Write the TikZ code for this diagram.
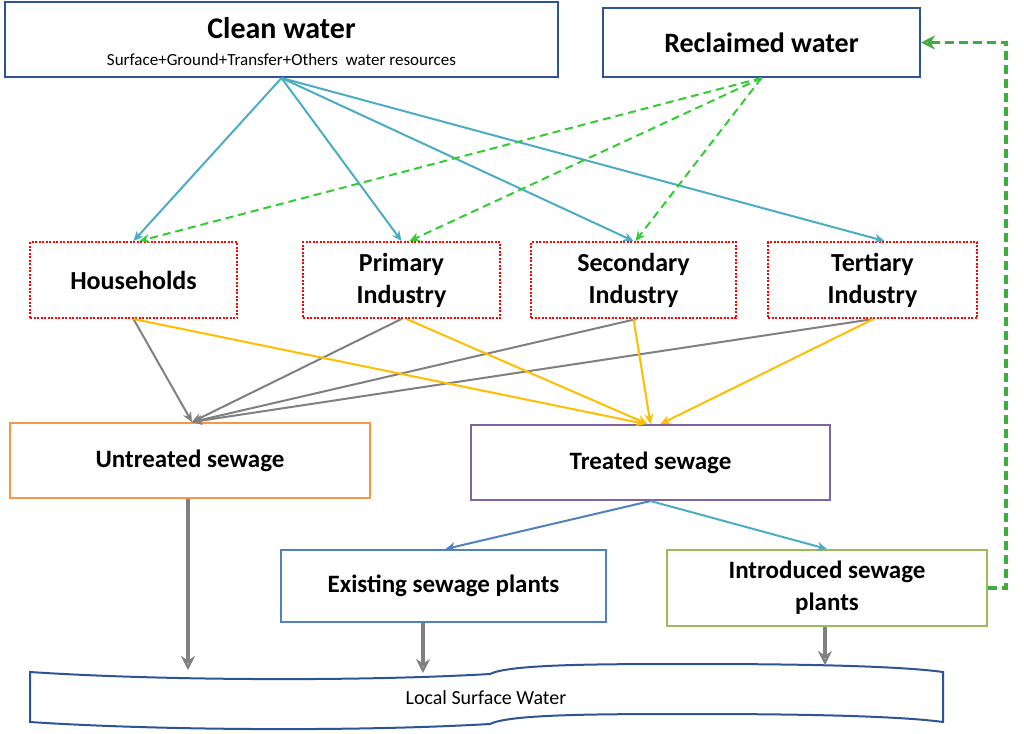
\documentclass[tikz,border=0pt]{standalone}
\usepackage{fontspec}
\setmainfont{Carlito}
\usetikzlibrary{arrows.meta,calc}
\definecolor{cblue}{RGB}{75,172,198}
\definecolor{dblue}{RGB}{47,84,150}
\definecolor{cgreen}{RGB}{50,205,50}
\definecolor{cgray}{RGB}{128,128,128}
\definecolor{cyel}{RGB}{255,190,0}
\definecolor{corange}{RGB}{247,150,70}
\definecolor{cpurple}{RGB}{128,100,162}
\definecolor{cbl2}{RGB}{79,129,189}
\definecolor{cgr2}{RGB}{155,187,89}
\begin{document}
\begin{tikzpicture}[x=1pt,y=-1pt,
 box/.style={draw,line width=2pt,fill=white,align=center,inner sep=0pt},
 sect/.style={draw=red,line width=2pt,dash pattern=on 2pt off 1.5pt,align=center,inner sep=0pt,minimum height=76pt,font=\fontsize{26}{32}\selectfont\bfseries},
 bl/.style={draw=cblue,line width=2pt,-{Stealth[length=10pt,width=9pt,open]}},
 gd/.style={draw=cgreen,line width=2pt,dash pattern=on 8pt off 5pt,-{Stealth[length=10pt,width=9pt,open]}},
 gr/.style={draw=cgray,line width=2pt,-{Stealth[length=10pt,width=9pt,open]}},
 ye/.style={draw=cyel,line width=2pt,-{Stealth[length=10pt,width=9pt,open]}},
 big/.style={draw=cgray,line width=4pt,-{Stealth[length=14pt,width=14pt,open]}}]
\useasboundingbox (0,0) rectangle (1024,733);
\node[box,draw=dblue,minimum width=553pt,minimum height=75pt] (cw) at (281.5,39.5) {};
\node at (281.5,28) {\fontsize{30}{34}\selectfont\bfseries Clean water};
\node at (281.5,60) {\fontsize{17}{20}\selectfont Surface+Ground+Transfer+Others\ \ water resources};
\node[box,draw=dblue,minimum width=317pt,minimum height=69pt,font=\fontsize{28}{32}\selectfont\bfseries] (rw) at (761.5,42.5) {Reclaimed water};
\node[sect,minimum width=207pt] (hh) at (133.5,280) {Households};
\node[sect,minimum width=197pt] (pi) at (401.5,280) {Primary\\Industry};
\node[sect,minimum width=205pt] (si) at (633.5,280) {Secondary\\Industry};
\node[sect,minimum width=209pt] (ti) at (872.5,280) {Tertiary\\Industry};
\node[box,draw=corange,minimum width=360pt,minimum height=75pt,font=\fontsize{25}{30}\selectfont\bfseries] (us) at (190,460.5) {Untreated sewage};
\node[box,draw=cpurple,minimum width=359pt,minimum height=75pt,font=\fontsize{25}{30}\selectfont\bfseries] (ts) at (650.5,462.5) {Treated sewage};
\node[box,draw=cbl2,minimum width=325pt,minimum height=72pt,font=\fontsize{25}{30}\selectfont\bfseries] (es) at (443.5,586) {Existing sewage plants};
\node[box,draw=cgr2,minimum width=320pt,minimum height=76pt,font=\fontsize{25}{32}\selectfont\bfseries] (is) at (827,588) {Introduced sewage\\plants};
% local surface water
\draw[dblue,line width=2pt,fill=white] (30,672) .. controls (150,680) and (350,682) .. (490,674) .. controls (510,664) and (600,664) .. (700,664) .. controls (800,664) and (900,666) .. (943,672) -- (943,722) .. controls (900,716) and (800,714) .. (700,714) .. controls (600,714) and (510,714) .. (490,724) .. controls (350,732) and (150,730) .. (30,722) -- cycle;
\node[font=\fontsize{20}{24}\selectfont] (lsw) at (486,698) {Local Surface Water};
\coordinate (l1) at (188,670);
\coordinate (l2) at (423,673);
\coordinate (l3) at (825,665);
% clean water arrows
\draw[bl] (cw.south) -- (hh.north);
\draw[bl] (cw.south) -- (pi.north);
\draw[bl] (cw.south) -- (si.north);
\draw[bl] (cw.south) -- ([xshift=12]ti.north);
% reclaimed
\draw[gd] (rw.south) -- ([xshift=6]hh.north);
\draw[gd] (rw.south) -- ([xshift=8]pi.north);
\draw[gd] (rw.south) -- ([xshift=2]si.north);
% to untreated
\draw[gr] (hh.south) -- ([xshift=2]us.north);
\draw[gr] (pi.south) -- ([xshift=2]us.north);
\draw[gr] ([xshift=3]si.south) -- ([xshift=2]us.north);
\draw[gr] ([xshift=1]ti.south) -- ([xshift=2]us.north);
% to treated
\draw[ye] (hh.south) -- ([xshift=-5]ts.north);
\draw[ye] ([xshift=5]pi.south) -- ([xshift=-3]ts.north);
\draw[ye] (si.south) -- (ts.north);
\draw[ye] ([xshift=1]ti.south) -- ([xshift=10]ts.north);
% treated to plants
\draw[draw=cbl2,line width=2pt,-{Stealth[length=10pt,width=9pt,open]}] (ts.south) -- ([xshift=2]es.north);
\draw[bl] (ts.south) -- (is.north);
% reclaimed loop
\draw[draw=cgreen!80!black!90,line width=3.5pt,dash pattern=on 9pt off 5pt,-{Stealth[length=14pt,width=14pt,open]}] (is.east) -- ++(18,0) |- (rw.east);
% to local surface water
\draw[big] (us.south -| l1) -- (l1);
\draw[big] (es.south -| l2) -- (l2);
\draw[big] ([xshift=-2]is.south) -- (l3);
\end{tikzpicture}
\end{document}
